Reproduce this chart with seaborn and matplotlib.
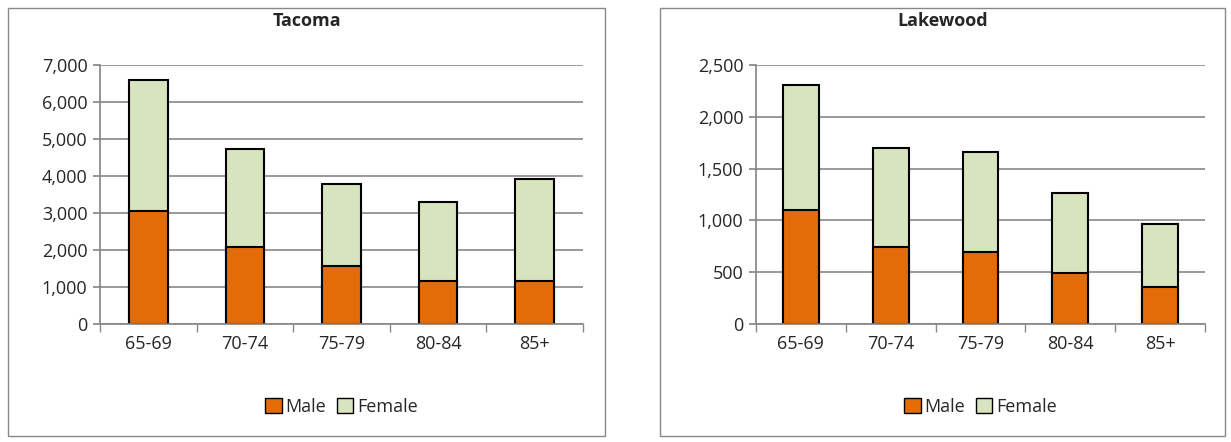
import pandas as pd
import matplotlib.pyplot as plt
import seaborn as sns
from matplotlib.patches import Rectangle, Patch
from matplotlib.ticker import FuncFormatter, FixedLocator

# Datos
ages = ["65-69", "70-74", "75-79", "80-84", "85+"]
tacoma_male = [3050, 2080, 1570, 1160, 1160]
tacoma_total = [6590, 4730, 3780, 3290, 3920]
lakewood_male = [1099, 739, 697, 488, 357]
lakewood_total = [2304, 1700, 1665, 1260, 964]

c_male = "#E36C09"
c_female = "#D7E4BD"

sns.set_theme(style="white")
plt.rcParams["font.family"] = ["Open Sans", "DejaVu Sans"]

fig = plt.figure(figsize=(12.31, 4.42), dpi=100)
W, H = 1231, 442

def panel(box, axbox, title, male, total, ymax, step):
    x0, y0, x1, y1 = box
    fig.patches.append(Rectangle((x0 / W, 1 - y1 / H), (x1 - x0) / W, (y1 - y0) / H,
                                 transform=fig.transFigure, fill=False,
                                 edgecolor="#888888", lw=1))
    fig.text((x0 + x1) / 2 / W, 1 - 21 / H, title, ha="center", va="center",
             fontsize=13, fontweight="bold")
    a0, b0, a1, b1 = axbox
    ax = fig.add_axes([a0 / W, 1 - b1 / H, (a1 - a0) / W, (b1 - b0) / H])
    df = pd.DataFrame({"age": ages, "male": male, "total": total})
    sns.barplot(data=df, x="age", y="total", color=c_female, edgecolor="black",
                linewidth=1.5, width=0.4, saturation=1, ax=ax)
    sns.barplot(data=df, x="age", y="male", color=c_male, edgecolor="black",
                linewidth=1.5, width=0.4, saturation=1, ax=ax)
    ax.set_xlim(-0.5, len(ages) - 0.5)
    ax.set_ylim(0, ymax)
    ax.set_yticks(range(0, ymax + 1, step))
    ax.yaxis.set_major_formatter(FuncFormatter(lambda v, p: f"{int(v):,}"))
    ax.xaxis.set_minor_locator(FixedLocator([i - 0.5 for i in range(len(ages) + 1)]))
    ax.grid(axis="y", color="#888888", lw=1.2)
    ax.set_axisbelow(True)
    for s in ["top", "right"]:
        ax.spines[s].set_visible(False)
    ax.spines["left"].set_color("#888888")
    ax.spines["bottom"].set_color("#888888")
    ax.set_xlabel("")
    ax.set_ylabel("")
    ax.tick_params(axis="both", labelsize=13, length=0, pad=8)
    ax.tick_params(axis="x", which="minor", length=6, color="#888888", direction="out", bottom=True)
    ax.tick_params(axis="y", length=5, color="#888888", direction="out", left=True, pad=4)
    ax.legend(handles=[Patch(facecolor=c_male, edgecolor="black", label="Male"),
                       Patch(facecolor=c_female, edgecolor="black", label="Female")],
              loc="center", bbox_to_anchor=(0.5, -0.32), ncol=2, frameon=False,
              fontsize=13, handlelength=0.9, handleheight=0.9, handletextpad=0.2,
              columnspacing=0.6)

panel((8, 8, 605, 436), (100, 65, 583, 324), "Tacoma", tacoma_male, tacoma_total, 7000, 1000)
panel((660, 8, 1225, 436), (756, 65, 1205, 324), "Lakewood", lakewood_male, lakewood_total, 2500, 500)

fig.savefig("out.png", dpi=100)
